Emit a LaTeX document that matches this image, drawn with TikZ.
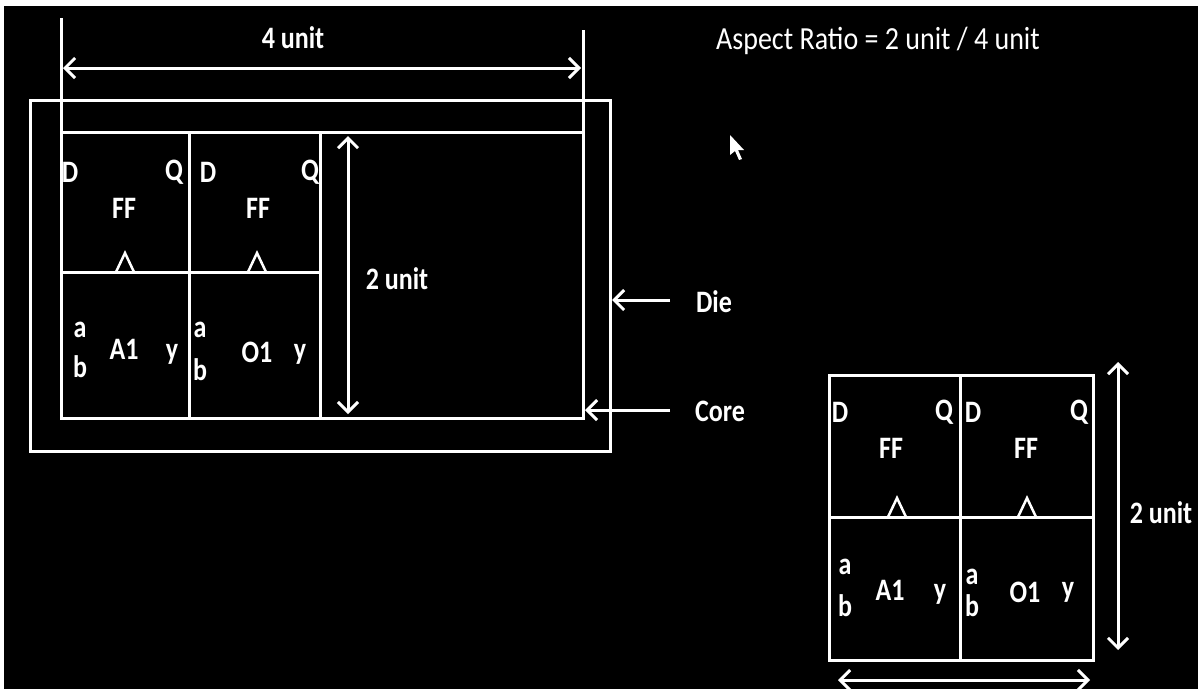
\documentclass[tikz,border=0pt]{standalone}
\usepackage{fontspec}
\setmainfont{Carlito}
\usetikzlibrary{arrows.meta}
\begin{document}
\begin{tikzpicture}[x=1pt,y=-1pt,
  ln/.style={white,line width=3pt},
  dim/.style={white,line width=3pt,{Straight Barb[length=10pt,width=20pt,line width=3pt]}-{Straight Barb[length=10pt,width=20pt,line width=3pt]}},
  ptr/.style={white,line width=3pt,-{Straight Barb[length=10pt,width=20pt,line width=3pt]}},
  lbl/.style={text=white,inner sep=0pt,yscale=1.2,font=\fontsize{26}{28}\selectfont\bfseries},
  big/.style={text=white,inner sep=0pt,yscale=1.15,font=\fontsize{28}{30}\selectfont},
  clk/.style={white,line width=2.5pt}]
% background
\fill[black] (0,0) rectangle (1198,689);
\useasboundingbox (0,0) rectangle (1198,689);
\fill[white] (0,0) rectangle (1198,6);
\fill[white] (0,0) rectangle (4,689);
% die and core
\draw[ln] (30,100) rectangle (610,451);
\draw[ln] (61,132) rectangle (583,418);
\draw[ln] (61,18) -- (61,132);
\draw[ln] (583,30) -- (583,132);
\draw[ln] (189,132) -- (189,418);
\draw[ln] (320,132) -- (320,418);
\draw[ln] (61,272) -- (320,272);
% dims
\coordinate (wl) at (63,68); \coordinate (wr) at (581,68);
\draw[dim] (wl) -- (wr);
\node[lbl] (w4) at (293,38) {4 unit};
\coordinate (ht) at (348,136); \coordinate (hb) at (348,414);
\draw[dim] (ht) -- (hb);
\node[lbl] (h2) at (397,279) {2 unit};
% die/core pointers
\node[lbl] (die) at (714,302) {Die};
\node[lbl] (core) at (720,411) {Core};
\coordinate (dieE) at (612,300);
\coordinate (coreE) at (585,410);
\draw[ptr] (670,300) -- (dieE);
\draw[ptr] (670,410) -- (coreE);
\node[big] (ar) at (878,41) {Aspect Ratio = 2 unit / 4 unit};
% cursor
\fill[white] (730,135) -- (730,155) -- (735,151) -- (739,160) -- (742,159) -- (738,150) -- (744,150) -- cycle;
% cells in big core
\node[lbl] (d1) at (70,172) {D};
\node[lbl] (q1) at (174,172) {Q};
\node[lbl] (ff1) at (124,208) {FF};
\draw[clk] (116,272) -- (125,253) -- (134,272);
\node[lbl] (a1a) at (80,330) {a};
\node[lbl] (a1b) at (80,367) {b};
\node[lbl] (a1) at (124,349) {A1};
\node[lbl] (a1y) at (172,354) {y};
\node[lbl] (d2) at (208,172) {D};
\node[lbl] (q2) at (310,172) {Q};
\node[lbl] (ff2) at (258,208) {FF};
\draw[clk] (248,272) -- (257,253) -- (266,272);
\node[lbl] (o1a) at (200,330) {a};
\node[lbl] (o1b) at (200,370) {b};
\node[lbl] (o1) at (257,352) {O1};
\node[lbl] (o1y) at (300,354) {y};
% small block
\draw[ln] (829,375) rectangle (1093,660);
\draw[ln] (960,375) -- (960,660);
\draw[ln] (829,517) -- (1093,517);
\node[lbl] (sd1) at (840,412) {D};
\node[lbl] (sq1) at (944,412) {Q};
\node[lbl] (sff1) at (891,448) {FF};
\draw[clk] (888,517) -- (897,498) -- (906,517);
\node[lbl] (sa1a) at (845,567) {a};
\node[lbl] (sa1b) at (845,606) {b};
\node[lbl] (sa1) at (890,590) {A1};
\node[lbl] (sa1y) at (940,594) {y};
\node[lbl] (sd2) at (973,412) {D};
\node[lbl] (sq2) at (1079,412) {Q};
\node[lbl] (sff2) at (1026,448) {FF};
\draw[clk] (1018,517) -- (1027,498) -- (1036,517);
\node[lbl] (so1a) at (972,577) {a};
\node[lbl] (so1b) at (972,606) {b};
\node[lbl] (so1) at (1025,592) {O1};
\node[lbl] (so1y) at (1068,592) {y};
\coordinate (st) at (1118,362); \coordinate (sb) at (1118,650);
\draw[dim] (st) -- (sb);
\node[lbl] (s2) at (1161,513) {2 unit};
\coordinate (sl) at (838,680); \coordinate (sr) at (1090,680);
\draw[dim] (sl) -- (sr);
\end{tikzpicture}
\end{document}
